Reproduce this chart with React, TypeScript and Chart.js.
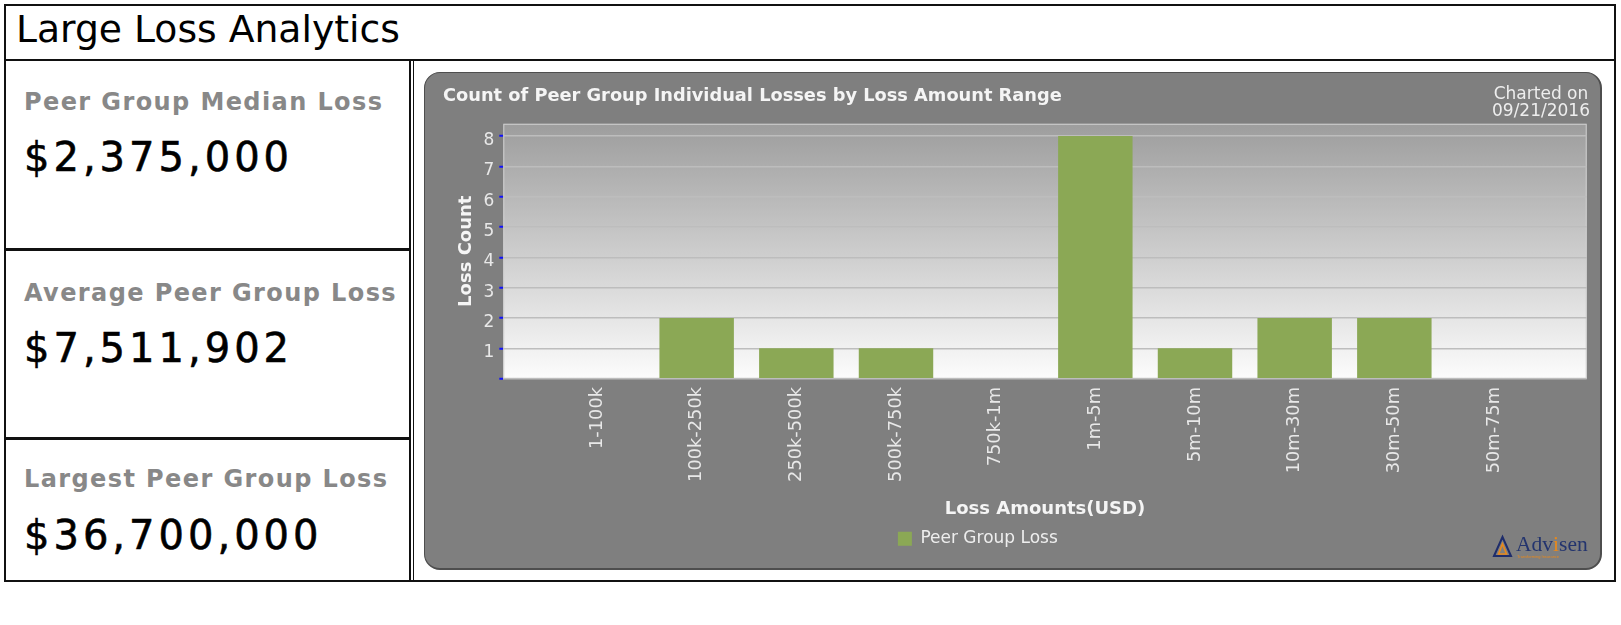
import React, { useEffect, useRef } from 'react';
import { Chart, registerables } from 'chart.js';

Chart.register(...registerables);

// ---- data ----
const categories = ['1-100k', '100k-250k', '250k-500k', '500k-750k', '750k-1m', '1m-5m', '5m-10m', '10m-30m', '30m-50m', '50m-75m'];
const lossCounts = [0, 2, 1, 1, 0, 8, 1, 2, 2, 0];
const yTickValues = [0, 1, 2, 3, 4, 5, 6, 7, 8];
const statLabels = ['Peer Group Median Loss', 'Average Peer Group Loss', 'Largest Peer Group Loss'];
const statValues = ['$2,375,000', '$7,511,902', '$36,700,000'];
const pageTitle = 'Large Loss Analytics';
const chartTitle = 'Count of Peer Group Individual Losses by Loss Amount Range';
const chartedOn = ['Charted on', '09/21/2016'];
const xTitle = 'Loss Amounts(USD)';
const yTitle = 'Loss Count';
const seriesName = 'Peer Group Loss';
const xMin = -0.94;
const xMax = 9.93;
const yMax = 8.4;

const FONT = "'DejaVu Sans', 'Liberation Sans', sans-serif";

const plotBg = {
  id: 'plotBg',
  afterLayout(chart: any) {
    const lg = chart.legend;
    if (lg) {
      lg.left -= 37;
      lg.right -= 37;
    }
  },
  beforeDraw(chart: any) {
    const { ctx, chartArea: a } = chart;
    const g = ctx.createLinearGradient(0, a.top, 0, a.bottom);
    g.addColorStop(0, '#9d9d9d');
    g.addColorStop(1, '#fcfcfc');
    ctx.save();
    ctx.fillStyle = g;
    ctx.fillRect(a.left, a.top, a.right - a.left, a.bottom - a.top);
    ctx.strokeStyle = '#d0d0d0';
    ctx.lineWidth = 1;
    ctx.strokeRect(a.left + 0.5, a.top + 0.5, a.right - a.left - 1, a.bottom - a.top - 1);
    ctx.restore();
  },
};

function LossChart() {
  const ref = useRef<HTMLCanvasElement | null>(null);
  useEffect(() => {
    if (!ref.current) return;
    const chart = new Chart(ref.current, {
      type: 'bar',
      data: {
        datasets: [
          {
            label: seriesName,
            data: categories.map((_, i) => ({ x: i, y: lossCounts[i] })),
            backgroundColor: '#8ba855',
            borderWidth: 0,
            barPercentage: 1,
            categoryPercentage: 0.747,
          },
        ],
      },
      plugins: [plotBg],
      options: {
        responsive: false,
        animation: false,
        events: [],
        devicePixelRatio: 1,
        layout: { padding: { left: 19, right: 17.3, top: 0, bottom: 12.8 } },
        plugins: {
          title: {
            display: true,
            text: chartTitle,
            align: 'start',
            color: '#f5f5f5',
            font: { family: FONT, size: 17.8, weight: 'bold' },
            padding: { top: 14.1, bottom: 16.3 },
          },
          legend: {
            display: true,
            position: 'bottom',
            labels: {
              color: '#eeeeee',
              font: { family: FONT, size: 17 },
              boxWidth: 14,
              boxHeight: 14,
              padding: 10,
            },
          },
          tooltip: { enabled: false },
        },
        scales: {
          x: {
            type: 'linear',
            offset: false,
            min: xMin,
            max: xMax,
            afterBuildTicks: (scale: any) => {
              scale.ticks = categories.map((_, i) => ({ value: i }));
            },
            afterFit: (scale: any) => {
              scale.height = 141.5;
            },
            grid: { display: false, drawTicks: false, offset: false },
            border: { display: false },
            ticks: {
              autoSkip: false,
              minRotation: 90,
              maxRotation: 90,
              padding: 8.3,
              color: '#e8e8e8',
              font: { family: FONT, size: 17.8 },
              callback: (v: any) => categories[v as number] ?? '',
            },
            title: {
              display: true,
              text: xTitle,
              color: '#f5f5f5',
              font: { family: FONT, size: 18, weight: 'bold' },
              padding: { top: 0, bottom: 0 },
            },
          },
          y: {
            type: 'linear',
            min: 0,
            max: yMax,
            afterBuildTicks: (scale: any) => {
              scale.ticks = yTickValues.map((v) => ({ value: v }));
            },
            afterFit: (scale: any) => {
              scale.width = 60.3;
            },
            grid: {
              color: '#bdbdbd',
              lineWidth: 1.5,
              drawTicks: true,
              tickLength: 4,
              tickColor: '#1010ff',
              tickWidth: 2,
            },
            border: { display: false },
            ticks: {
              padding: 5,
              labelOffset: 4.5,
              color: '#e8e8e8',
              font: { family: FONT, size: 17 },
              callback: (v: any) => (v === 0 ? '' : String(v)),
            },
            title: {
              display: true,
              text: yTitle,
              color: '#f5f5f5',
              font: { family: FONT, size: 18, weight: 'bold' },
              padding: { top: 12.4, bottom: 0 },
            },
          },
        },
      } as any,
    });
    return () => chart.destroy();
  }, []);
  return (
    <canvas
      ref={ref}
      width={1180}
      height={498}
      style={{ position: 'absolute', left: 424, top: 72, width: 1180, height: 498 }}
    />
  );
}

const line = (left: number, top: number, width: number, height: number, color = '#111') => (
  <div style={{ position: 'absolute', left, top, width, height, background: color }} />
);

export default function App() {
  const labelTops = [90, 280.7, 467.4];
  const valueTops = [137.3, 328, 515.3];
  return (
    <div style={{ position: 'absolute', left: 0, top: 0, width: 1621, height: 625, background: '#fff', fontFamily: FONT, overflow: 'hidden' }}>
      {/* frame */}
      {line(4, 4, 1612, 2)}
      {line(4, 580, 1612, 2)}
      {line(4, 4, 2, 578)}
      {line(1614, 4, 2, 578)}
      {line(4, 59, 1612, 2)}
      {line(409, 59, 2, 523)}
      {line(413, 59, 1, 523)}
      {line(4, 248, 407, 3)}
      {line(4, 437, 407, 3)}

      <div style={{ position: 'absolute', left: 16, top: 11.2, fontSize: 37.7, lineHeight: '37.7px', color: '#000', whiteSpace: 'nowrap' }}>
        {pageTitle}
      </div>

      {statLabels.map((s, i) => (
        <div key={'l' + i} style={{ position: 'absolute', left: 24, top: labelTops[i], fontSize: 24, lineHeight: '24px', fontWeight: 'bold', letterSpacing: 1.4, color: '#888888', whiteSpace: 'nowrap' }}>
          {s}
        </div>
      ))}
      {statValues.map((s, i) => (
        <div key={'v' + i} style={{ position: 'absolute', left: 24, top: valueTops[i], fontSize: 40, lineHeight: '40px', letterSpacing: 4, color: '#000', whiteSpace: 'nowrap', WebkitTextStroke: '0.6px #000' }}>
          {s}
        </div>
      ))}

      {/* chart panel */}
      <div
        style={{
          position: 'absolute',
          left: 424,
          top: 72,
          width: 1178,
          height: 498,
          boxSizing: 'border-box',
          background: '#7f7f7f',
          borderRadius: 16,
          border: '1px solid #4e4e4e',
          borderRightWidth: 2,
          borderBottomWidth: 2,
        }}
      />
      <LossChart />
      <div style={{ position: 'absolute', left: 1481, top: 85.2, width: 120, textAlign: 'center', fontSize: 17, lineHeight: '16.4px', color: '#eeeeee', whiteSpace: 'nowrap' }}>
        {chartedOn[0]}
        <br />
        {chartedOn[1]}
      </div>
      <svg style={{ position: 'absolute', left: 1490, top: 533 }} width={102} height={27}>
        <polygon points="4,23 12.5,4 21,23" fill="none" stroke="#1f2d6b" strokeWidth={2} />
        <polygon points="8.5,21 12.5,11 16.5,21" fill="none" stroke="#e8891c" strokeWidth={1.6} />
        <text x={26} y={18} fontFamily="'Liberation Serif', serif" fontSize={21.5} fill="#23346e">
          Adv<tspan fill="#e8891c">i</tspan>sen
        </text>
        <text x={27} y={24.5} fontFamily="'Liberation Sans', sans-serif" fontSize={4} fill="#e8891c">
          Transforming Insurance
        </text>
      </svg>
    </div>
  );
}
